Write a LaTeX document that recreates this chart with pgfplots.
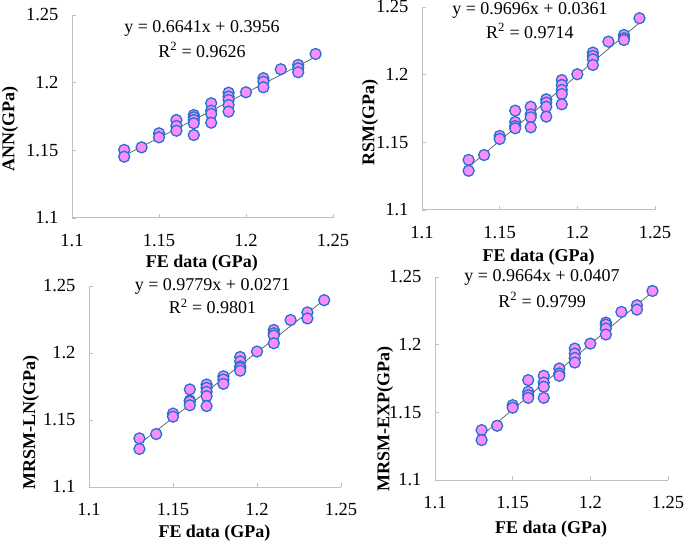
\documentclass[border=0pt]{standalone}
\usepackage{fontspec}
\setmainfont{Liberation Serif}
\usepackage{pgfplots}
\pgfplotsset{compat=1.18}
\definecolor{mfill}{RGB}{255,140,255}
\definecolor{medge}{RGB}{35,115,205}
\definecolor{axgray}{RGB}{191,191,191}
\pgfplotsset{myax/.style={
 scale only axis, anchor=south west,
 width=233pt, height=203pt,
 xmin=1.1,xmax=1.25,ymin=1.1,ymax=1.25,
 xtick={1.1,1.15,1.2,1.25}, ytick={1.1,1.15,1.2,1.25},
 axis x line*=bottom, axis y line*=left,
 axis line style={axgray, line width=1pt},
 tick align=inside, major tick length=4pt, tick style={axgray, line width=0.8pt},
 /pgf/number format/assume math mode=true,
 /pgf/number format/precision=2,
 tick label style={font=\fontsize{18.5}{20}\selectfont, text=black},
 xticklabel style={yshift=-13pt},
 yticklabel style={xshift=-10pt},
 clip=false,
 every axis y label/.style={rotate=90, anchor=center, font=\fontsize{18}{20}\selectfont\bfseries},
 every axis x label/.style={anchor=center, font=\fontsize{18}{20}\selectfont\bfseries},
},
mk/.style={only marks, mark=*, mark size=5.5pt, mark options={fill=mfill, draw=medge, line width=1.3pt}},
tl/.style={black!65, line width=0.7pt, no marks},
}
\newcommand{\eqfont}{\fontsize{18}{20}\selectfont}
\begin{document}
\begin{tikzpicture}[x=1pt,y=1pt]
\useasboundingbox (0,0) rectangle (685,544);
% Panel 1
\begin{axis}[myax, at={(72pt,326pt)}, width=261pt,
  xlabel={FE data (GPa)}, ylabel={ANN(GPa)},
  xlabel style={at={(axis description cs:0.498,-0.222)}},
  ylabel style={at={(axis description cs:-0.2375,0.438)}}]
\addplot[mk] table {
1.13 1.1503
1.13 1.1453
1.14 1.1522
1.15 1.1626
1.15 1.1596
1.16 1.1724
1.16 1.1680
1.16 1.1645
1.17 1.1761
1.17 1.1744
1.17 1.1724
1.17 1.1700
1.17 1.1613
1.18 1.1848
1.18 1.1793
1.18 1.1769
1.18 1.1704
1.19 1.1926
1.19 1.1897
1.19 1.1872
1.19 1.1835
1.19 1.1786
1.20 1.1929
1.21 1.2033
1.21 1.2007
1.21 1.1966
1.22 1.2099
1.23 1.2131
1.23 1.2106
1.23 1.2077
1.24 1.2212
};
\addplot[tl] coordinates {(1.13,1.146033) (1.24,1.219084)};
\node[font=\eqfont] at (axis cs:1.1747,1.2397) {y = 0.6641x + 0.3956};
\node[font=\eqfont] at (axis cs:1.1747,1.2241) {R\textsuperscript{2} = 0.9626};
\end{axis}
% Panel 2
\begin{axis}[myax, at={(422pt,334pt)}, width=233pt,
  xlabel={FE data (GPa)}, ylabel={RSM(GPa)},
  xlabel style={at={(axis description cs:0.50,-0.23)}},
  ylabel style={at={(axis description cs:-0.223,0.4286)}}]
\addplot[mk] table {
1.13 1.1370
1.13 1.1290
1.14 1.1406
1.15 1.1547
1.15 1.1525
1.16 1.1734
1.16 1.1650
1.16 1.1620
1.16 1.1604
1.17 1.1763
1.17 1.1707
1.17 1.1685
1.17 1.1611
1.18 1.1818
1.18 1.1793
1.18 1.1763
1.18 1.1690
1.19 1.1960
1.19 1.1924
1.19 1.1887
1.19 1.1857
1.19 1.1781
1.20 1.2003
1.21 1.2163
1.21 1.2138
1.21 1.2114
1.21 1.2072
1.22 1.2244
1.23 1.2293
1.23 1.2270
1.23 1.2256
1.24 1.2417
};
\addplot[tl] coordinates {(1.13,1.131748) (1.24,1.238404)};
\node[font=\eqfont] at (axis cs:1.1695,1.2478) {y = 0.9696x + 0.0361};
\node[font=\eqfont] at (axis cs:1.1695,1.2323) {R\textsuperscript{2} = 0.9714};
\end{axis}
% Panel 3
\begin{axis}[myax, at={(89pt,57pt)}, width=252pt, height=201pt,
  xlabel={FE data (GPa)}, ylabel={MRSM-LN(GPa)},
  xlabel style={at={(axis description cs:0.498,-0.232)}},
  ylabel style={at={(axis description cs:-0.231,0.32)}}]
\addplot[mk] table {
1.13 1.1363
1.13 1.1284
1.14 1.1395
1.15 1.1548
1.15 1.1525
1.16 1.1728
1.16 1.1646
1.16 1.1637
1.16 1.1610
1.17 1.1765
1.17 1.1740
1.17 1.1710
1.17 1.1678
1.17 1.1604
1.18 1.1826
1.18 1.1802
1.18 1.1770
1.19 1.1970
1.19 1.1937
1.19 1.1900
1.19 1.1888
1.19 1.1868
1.20 1.2011
1.21 1.2172
1.21 1.2147
1.21 1.2130
1.21 1.2073
1.22 1.2246
1.23 1.2303
1.23 1.2258
1.24 1.2394
};
\addplot[tl] coordinates {(1.13,1.132127) (1.24,1.239696)};
\node[font=\eqfont] at (axis cs:1.1735,1.2493) {y = 0.9779x + 0.0271};
\node[font=\eqfont] at (axis cs:1.1735,1.2345) {R\textsuperscript{2} = 0.9801};
\end{axis}
% Panel 4
\begin{axis}[myax, at={(435pt,64pt)}, width=233pt,
  xlabel={FE data (GPa)}, ylabel={MRSM-EXP(GPa)},
  xlabel style={at={(axis description cs:0.498,-0.24)}},
  ylabel style={at={(axis description cs:-0.2146,0.30)}}]
\addplot[mk] table {
1.13 1.1369
1.13 1.1295
1.14 1.1401
1.15 1.1553
1.15 1.1534
1.16 1.1738
1.16 1.1652
1.16 1.1627
1.16 1.1607
1.17 1.1770
1.17 1.1720
1.17 1.1689
1.17 1.1607
1.18 1.1824
1.18 1.1787
1.18 1.1770
1.19 1.1971
1.19 1.1934
1.19 1.1902
1.19 1.1868
1.20 1.2008
1.21 1.2163
1.21 1.2148
1.21 1.2119
1.21 1.2075
1.22 1.2242
1.23 1.2291
1.23 1.2259
1.24 1.2397
};
\addplot[tl] coordinates {(1.13,1.132732) (1.24,1.239036)};
\node[font=\eqfont] at (axis cs:1.1689,1.2493) {y = 0.9664x + 0.0407};
\node[font=\eqfont] at (axis cs:1.1689,1.233) {R\textsuperscript{2} = 0.9799};
\end{axis}
\end{tikzpicture}
\end{document}
